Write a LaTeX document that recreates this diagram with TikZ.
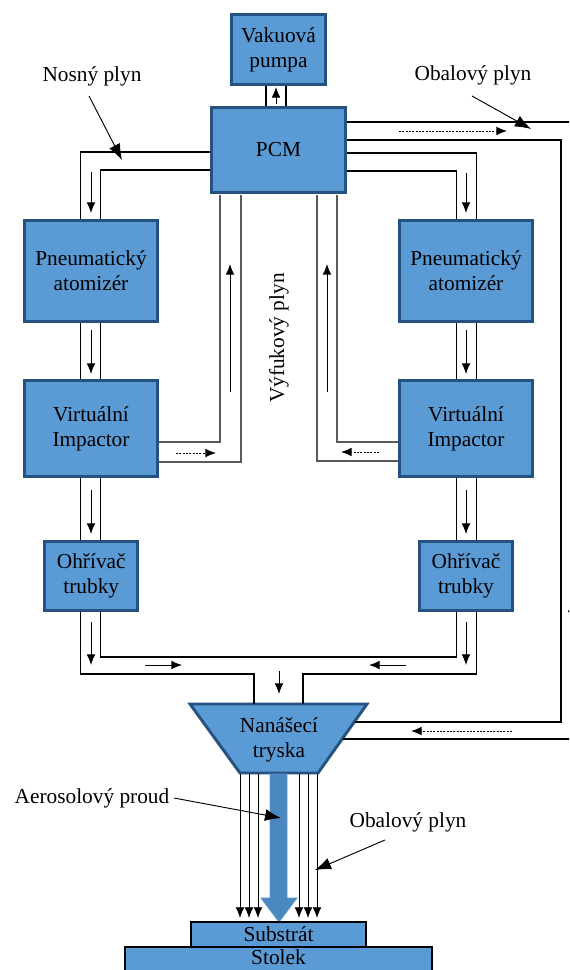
\documentclass[tikz,border=0pt]{standalone}
\usepackage{fontspec}
\setmainfont{Liberation Serif}
\usetikzlibrary{arrows.meta}

\definecolor{blockfill}{RGB}{91,155,213}
\definecolor{blockedge}{RGB}{38,82,130}
\definecolor{streamfill}{RGB}{76,136,192}

\begin{document}
\begin{tikzpicture}[x=0.75pt, y=-0.75pt]
            % Base settings
            \tikzset{
              blockbox/.style={draw=blockedge, fill=blockfill, line width=2.2pt, align=center,
                font=\fontsize{16}{18.75}\selectfont, inner sep=0pt},
              tablebox/.style={draw=black, fill=blockfill, line width=0.9pt,
                font=\fontsize{16}{18.75}\selectfont, inner sep=0pt},
              labeltext/.style={font=\fontsize{16}{18.75}\selectfont, align=center},
              pipeline/.style={line width=0.8pt},
              exhaustline/.style={line width=0.8pt, black!65},
              flowarrow/.style={line width=0.7pt, -{Latex[length=8pt, width=6.5pt]}},
              dotarrow/.style={line width=0.7pt, dash pattern=on 1.5pt off 1pt, -{Latex[length=8pt, width=6.5pt]}},
              pointer/.style={line width=0.7pt, -{Latex[length=12pt, width=9pt]}}
            }
            \clip (0,0) rectangle (569,970);

            % --- Blocks ---
            \node[blockbox, minimum width=94*0.75pt, minimum height=70*0.75pt] (pump) at (278.5,49.5) {Vakuová\\pumpa};
            \node[blockbox, minimum width=134*0.75pt, minimum height=85*0.75pt] (pcm) at (278.5,150) {PCM};

            \node[blockbox, minimum width=133*0.75pt, minimum height=101*0.75pt] (atomL) at (91,271) {Pneumatický\\atomizér};
            \node[blockbox, minimum width=133*0.75pt, minimum height=96*0.75pt] (impL) at (91,428.5) {Virtuální\\Impactor};
            \node[blockbox, minimum width=93*0.75pt, minimum height=69*0.75pt] (heatL) at (91.25,576) {Ohřívač\\trubky};

            \node[blockbox, minimum width=133*0.75pt, minimum height=101*0.75pt] (atomR) at (466,271) {Pneumatický\\atomizér};
            \node[blockbox, minimum width=133*0.75pt, minimum height=96*0.75pt] (impR) at (466,428.5) {Virtuální\\Impactor};
            \node[blockbox, minimum width=93*0.75pt, minimum height=69*0.75pt] (heatR) at (466,576) {Ohřívač\\trubky};

            % --- Nozzle ---
            \draw[blockbox] (190,704) -- (367,704) -- (318,773) -- (240,773) -- cycle;
            \node[labeltext] (nozzle) at (279,740) {Nanášecí\\tryska};

            % --- Vacuum pipe ---
            \draw[pipeline] (266,106) -- (266,86);
            \draw[pipeline] (286,106) -- (286,86);
            \draw[flowarrow] (276,104) -- (276,87);

            % --- Carrier gas, left ---
            \draw[pipeline] (210,152) -- (80.5,152) -- (80.5,219);
            \draw[pipeline] (210,170) -- (100.5,170) -- (100.5,219);
            \draw[flowarrow] (91,172) -- (91,213);

            % --- Carrier gas, right ---
            \draw[pipeline] (347,153) -- (476.5,153) -- (476.5,219);
            \draw[pipeline] (347,171) -- (456.5,171) -- (456.5,219);
            \draw[flowarrow] (466,173) -- (466,213);

            % --- Pipes between blocks ---
            \foreach \xa/\xb/\xm in {80.5/100.5/91, 456.5/476.5/466} {
              \draw[pipeline] (\xa,323) -- (\xa,379);
              \draw[pipeline] (\xb,323) -- (\xb,379);
              \draw[flowarrow] (\xm,330) -- (\xm,374);
              \draw[pipeline] (\xa,478) -- (\xa,540);
              \draw[pipeline] (\xb,478) -- (\xb,540);
              \draw[flowarrow] (\xm,490) -- (\xm,534);
            }

            % --- Heaters to nozzle ---
            \draw[pipeline] (80.5,612) -- (80.5,674) -- (254,674) -- (254,704);
            \draw[pipeline] (476.5,612) -- (476.5,674) -- (303,674) -- (303,704);
            \draw[pipeline] (100.5,612) -- (100.5,657) -- (456.5,657) -- (456.5,612);
            \draw[flowarrow] (91,622) -- (91,665);
            \draw[flowarrow] (466,622) -- (466,665);
            \draw[flowarrow] (145,665) -- (182,665);
            \draw[flowarrow] (406,665) -- (369,665);
            \draw[flowarrow] (279,671) -- (279,694);

            % --- Exhaust gas ---
            \draw[exhaustline] (220,195) -- (220,442) -- (159,442);
            \draw[exhaustline] (241,195) -- (241,462) -- (159,462);
            \draw[exhaustline] (337,195) -- (337,442) -- (398,442);
            \draw[exhaustline] (317,195) -- (317,461) -- (398,461);
            \draw[flowarrow] (230,392) -- (230,264);
            \draw[flowarrow] (327,392) -- (327,264);
            \draw[dotarrow] (176,453) -- (216,453);
            \draw[dotarrow] (379,452) -- (341,452);
            \node[labeltext, rotate=90] (exhaust) at (279,338) {Výfukový plyn};

            % --- Sheath gas ---
            \draw[pipeline] (347,122) -- (575,122);
            \draw[pipeline] (347,140) -- (561,140) -- (561,722) -- (355,722);
            \draw[pipeline] (343,739) -- (575,739);
            \draw[dotarrow] (399,131) -- (507,131);
            \draw[dotarrow] (512,731) -- (411,731);
            \draw[flowarrow] (572,580) -- (572,621);

            % --- Jet ---
            \foreach \xj in {240,249,258,299,308,317} {
              \draw[flowarrow, line width=0.6pt] (\xj,774) -- (\xj,918);
            }
            \draw[fill=streamfill, draw=blockfill, line width=0.6pt]
              (270,774) -- (270,898) -- (261,898) -- (279,922) -- (297,898) -- (287,898) -- (287,774) -- cycle;

            % --- Substrate and table ---
            \node[tablebox, minimum width=175*0.75pt, minimum height=25*0.75pt] (substrate) at (278.5,934.5) {Substrát};
            \node[tablebox, minimum width=307*0.75pt, minimum height=27*0.75pt] (table) at (278.5,960.5) {};
            \node[labeltext] (tabletext) at (278.5,957.5) {Stolek};

            % --- Labels ---
            \node[labeltext] (carrier) at (92,76) {Nosný plyn};
            \node[labeltext] (sheathtop) at (473,75) {Obalový plyn};
            \node[labeltext] (aerosol) at (92,798) {Aerosolový proud};
            \node[labeltext] (sheathlow) at (408,822) {Obalový plyn};
            \draw[pointer] (89,96) -- (122,160);
            \draw[pointer] (472,96) -- (531,129);
            \draw[pointer] (aerosol.east) -- (281,818);
            \draw[pointer] (385,840) -- (315,870);

            \end{tikzpicture}
\end{document}
